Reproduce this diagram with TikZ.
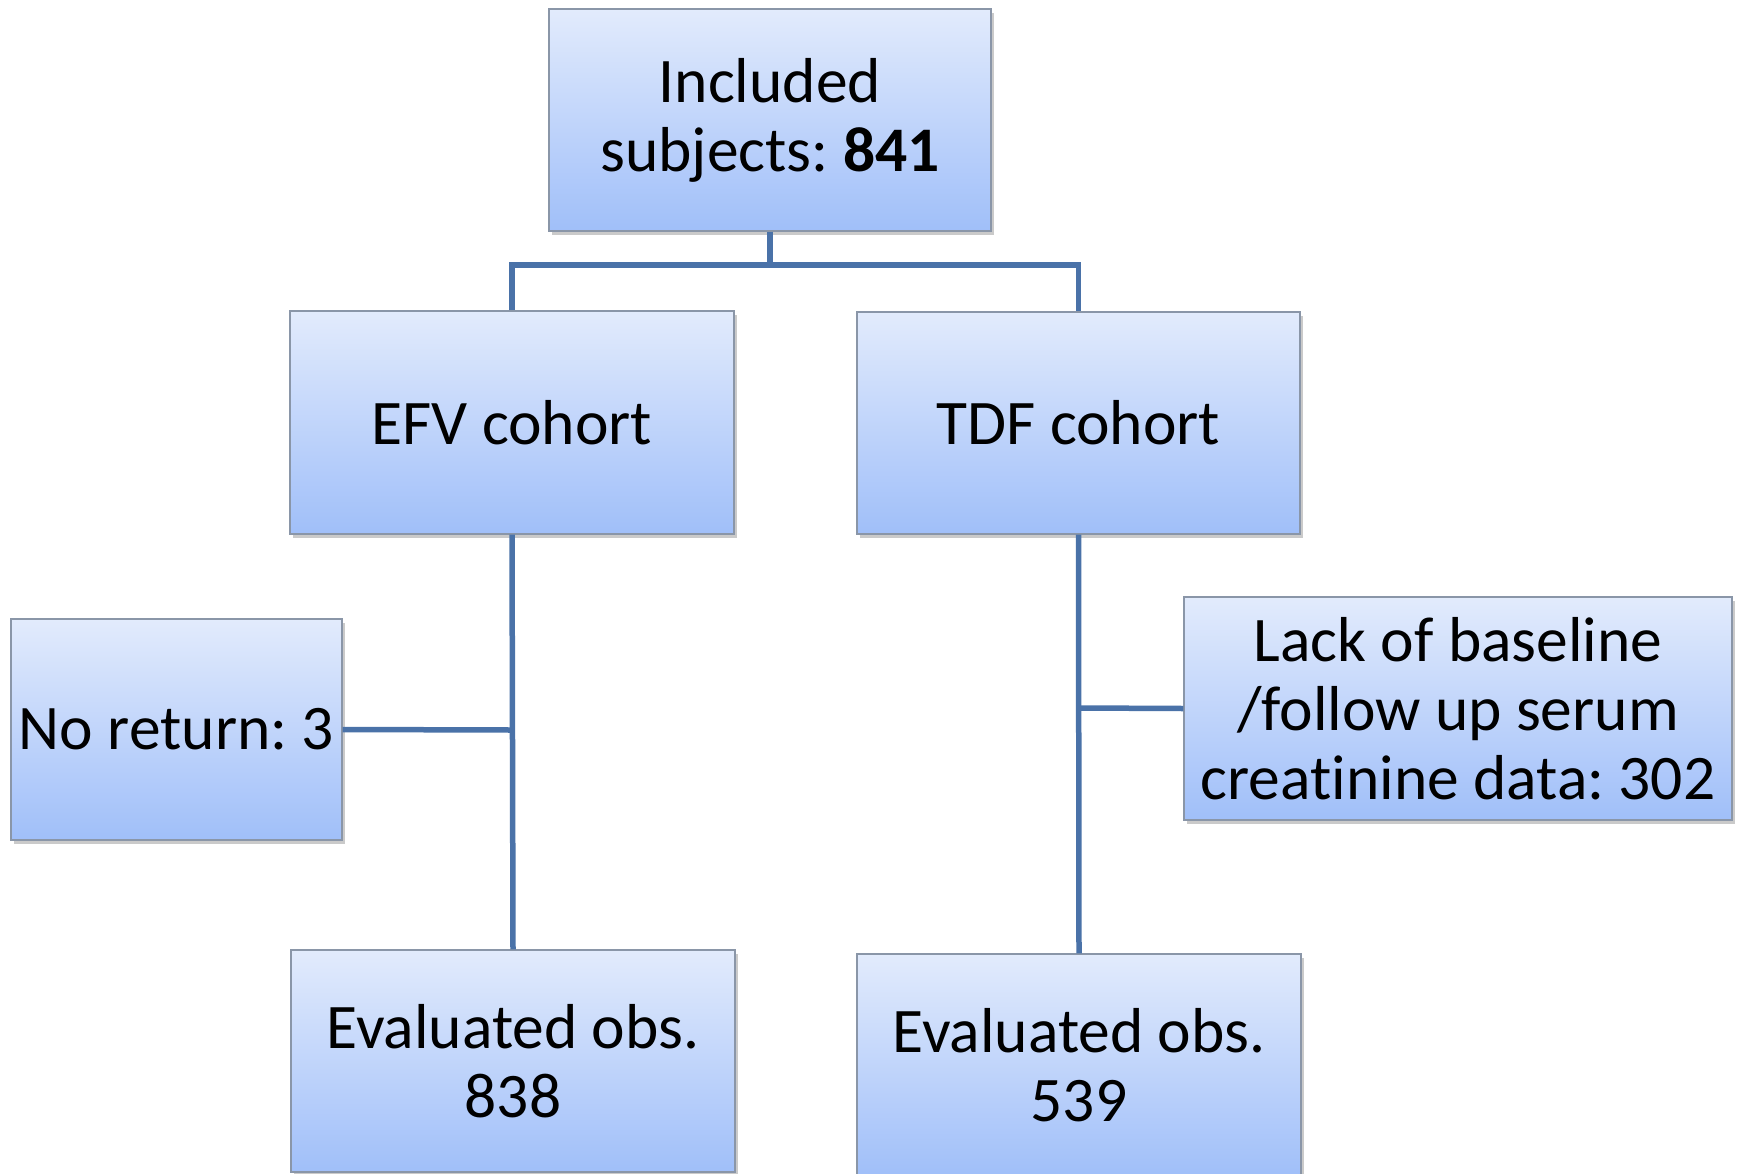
\documentclass[tikz,border=0pt]{standalone}
\usepackage{fontspec}
\setmainfont[Ligatures=NoCommon]{Carlito}
\usetikzlibrary{shadows}
\definecolor{linec}{HTML}{4A72A8}
\definecolor{boxtop}{HTML}{E2EBFC}
\definecolor{boxbot}{HTML}{A0BFF9}
\definecolor{boxedge}{HTML}{8A96A8}
\tikzset{
  flowbox/.style={draw=boxedge, line width=1.2pt, top color=boxtop, bottom color=boxbot,
    inner sep=0pt, align=center, font=\fontsize{63.5}{69}\selectfont,
    drop shadow={shadow xshift=3pt, shadow yshift=-4pt, opacity=0.35, fill=black!60}},
  conn/.style={draw=linec, line width=5.5pt}
}
\begin{document}
\frenchspacing
\begin{tikzpicture}[x=1pt,y=-1pt]
\useasboundingbox (0,0) rectangle (1740,1173);
\clip (0,0) rectangle (1740,1173);
\node[flowbox, minimum width=442pt, minimum height=222pt] (inc) at (770,120) {Included\\subjects: \textbf{841}};
\node[flowbox, minimum width=444pt, minimum height=223pt] (efv) at (512,422.5) {EFV cohort};
\node[flowbox, minimum width=443pt, minimum height=222pt] (tdf) at (1078.5,423) {TDF cohort};
\node[flowbox, minimum width=331pt, minimum height=221pt] (noret) at (176.5,729.5) {No return: 3};
\node[flowbox, minimum width=548pt, minimum height=223pt] (lack) at (1458,708.5) {Lack of baseline\\/follow up serum\\creatinine data: 302};
\node[flowbox, minimum width=444pt, minimum height=222pt] (evefv) at (513,1061) {Evaluated obs.\\838};
\node[flowbox, minimum width=444pt, minimum height=222pt] (evtdf) at (1079,1065) {Evaluated obs.\\539};
\coordinate (split) at (770,265);
\coordinate (jefv) at (512,730);
\coordinate (jtdf) at (1079,708);
\draw[conn] (inc.south) -- (split);
\draw[conn] (efv.north) |- (split) -| (tdf.north);
\draw[conn] (efv.south) -- (evefv.north);
\draw[conn] (tdf.south) -- (evtdf.north);
\draw[conn] (noret.east) -- (jefv);
\draw[conn] (lack.west) -- (jtdf);
\end{tikzpicture}
\end{document}
